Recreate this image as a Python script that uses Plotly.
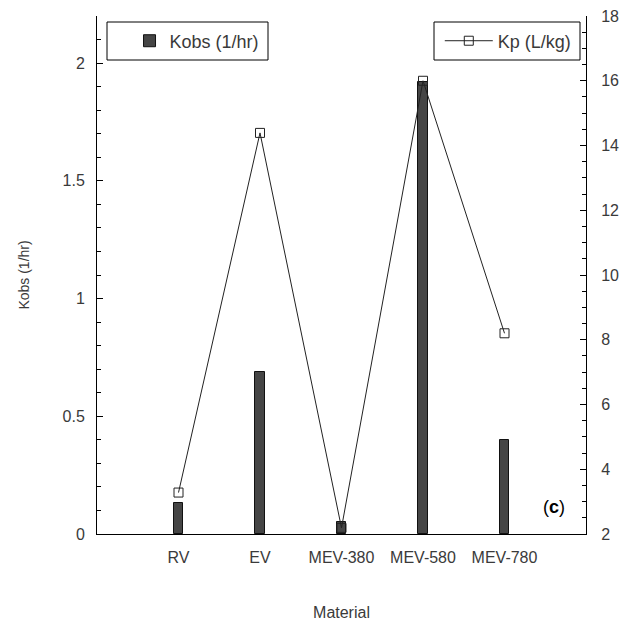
import plotly.graph_objects as go

materials = ["RV", "EV", "MEV-380", "MEV-580", "MEV-780"]
kobs = [0.13, 0.69, 0.05, 1.92, 0.40]
kp = [3.28, 14.39, 2.19, 16.0, 8.2]

FONT = "Liberation Sans, Arial, sans-serif"
TXT = "#3a3a3a"

fig = go.Figure()
fig.add_trace(go.Bar(
    x=materials, y=kobs, name="Kobs (1/hr)", width=0.12,
    marker=dict(color="#454545", line=dict(color="#111111", width=1)),
    legend="legend", yaxis="y",
))
fig.add_trace(go.Scatter(
    x=materials, y=kp, name="Kp (L/kg)", mode="lines+markers",
    line=dict(color="#222222", width=1),
    marker=dict(symbol="square-open", size=9, color="#222222", line=dict(width=1)),
    legend="legend2", yaxis="y2",
))

# page body has an 8px margin: figure sits at (8, 8) in the window
fig.update_layout(
    width=616, height=613,
    margin=dict(l=89, r=38, t=8, b=87, autoexpand=False),
    paper_bgcolor="white", plot_bgcolor="white",
    font=dict(family=FONT, size=16, color=TXT),
    showlegend=True,
    xaxis=dict(
        type="category", range=[-1, 5], showline=True, linecolor="black", linewidth=1,
        ticks="", showgrid=False, zeroline=False, ticklabelstandoff=9, automargin=False,
        title=dict(text="Material", standoff=42, font=dict(size=16, color=TXT)),
    ),
    yaxis=dict(
        range=[0, 2.2], tickvals=[0, 0.5, 1, 1.5, 2], ticktext=["0", "0.5", "1", "1.5", "2"],
        showline=True, linecolor="black", linewidth=1, ticks="inside", ticklen=6,
        tickcolor="black", showgrid=False, zeroline=False, ticklabelstandoff=8, automargin=False,
        minor=dict(dtick=0.1, tick0=0, ticks="inside", ticklen=4, tickcolor="black", showgrid=False),
        title=dict(text="Kobs (1/hr)", standoff=29, font=dict(size=14, color=TXT)),
    ),
    yaxis2=dict(
        overlaying="y", side="right", range=[2, 18.001],
        tickvals=[2, 4, 6, 8, 10, 12, 14, 16, 18],
        showline=True, linecolor="black", linewidth=1, ticks="inside", ticklen=6,
        tickcolor="black", showgrid=False, zeroline=False, ticklabelstandoff=11, automargin=False,
        ticklabeloverflow="allow",
        minor=dict(dtick=0.5, tick0=2, ticks="inside", ticklen=4, tickcolor="black", showgrid=False),
    ),
    legend=dict(
        x=0.0665, y=0.9517, xanchor="left", yanchor="middle", xref="paper", yref="paper",
        borderwidth=0, bgcolor="rgba(0,0,0,0)",
        orientation="h", font=dict(size=18, color=TXT),
        itemclick=False,
    ),
    legend2=dict(
        x=0.701, y=0.9517, xanchor="left", yanchor="middle", xref="paper", yref="paper",
        borderwidth=0, bgcolor="rgba(0,0,0,0)", itemwidth=48,
        orientation="h", font=dict(size=18, color=TXT),
        itemclick=False,
    ),
    shapes=[
        dict(type="rect", xref="paper", yref="paper", layer="below",
             x0=(107 - 97) / 489, x1=(268 - 97) / 489, y0=(534 - 60) / 518, y1=(534 - 22) / 518,
             line=dict(color="black", width=1), fillcolor="white"),
        dict(type="rect", xref="paper", yref="paper", layer="below",
             x0=(434 - 97) / 489, x1=(580 - 97) / 489, y0=(534 - 60) / 518, y1=(534 - 22) / 518,
             line=dict(color="black", width=1), fillcolor="white"),
    ],
    annotations=[dict(
        text="(<b>c</b>)", x=0.961, y=0.029, xref="paper", yref="paper",
        showarrow=False, font=dict(size=18, color="black"),
    )],
    bargap=0,
)

fig.write_html("out.html")
